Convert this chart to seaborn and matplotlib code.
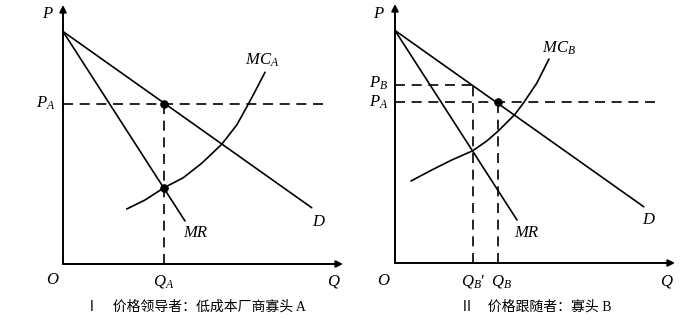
import matplotlib
matplotlib.use("Agg")
import matplotlib.pyplot as plt
import seaborn as sns

# ---------------- data (economic units) ----------------
demand_q = [0.0, 9.95]
demand_p = [9.30, 2.25]
mr_q = [0.0, 4.88]
mr_p = [9.30, 1.72]

mc_a_q = [2.55, 3.28, 4.04, 4.81, 5.55, 6.35, 6.95, 7.41, 7.75, 8.08]
mc_a_p = [2.20, 2.56, 3.05, 3.45, 4.03, 4.79, 5.56, 6.39, 7.03, 7.67]
mc_b_q = [0.64, 1.47, 2.27, 3.11, 3.67, 4.13, 4.80, 5.13, 5.67, 6.16]
mc_b_p = [3.28, 3.72, 4.12, 4.49, 4.88, 5.28, 5.95, 6.39, 7.19, 8.16]

p_a = 6.42
q_a = 4.04
mc_at_qa = 3.05
p_b = 7.12
q_b_prime = 3.12
q_b = 4.12

q_axis_max = 11.2
p_axis_max = 10.36
dash_end = 10.64

captions = ["Ⅰ　价格领导者：低成本厂商寡头 A", "Ⅱ　价格跟随者：寡头 B"]

# ---------------- style ----------------
sns.set_theme(style="white")
plt.rcParams["font.family"] = ["Liberation Serif", "Noto Sans CJK SC", "DejaVu Sans"]
plt.rcParams["mathtext.fontset"] = "custom"
plt.rcParams["mathtext.rm"] = "Liberation Serif"
plt.rcParams["mathtext.it"] = "Liberation Serif:italic"
plt.rcParams["text.color"] = "black"

fig = plt.figure(figsize=(6.96, 3.24), dpi=100)
W, H = 696.0, 324.0
U = 25.0  # pixels per unit

def make_ax(x0, x1, ox, oy):
    ax = fig.add_axes([x0 / W, 0, (x1 - x0) / W, 1])
    ax.set_xlim((x0 - ox) / U, (x1 - ox) / U)
    ax.set_ylim((oy - H) / U, oy / U)
    ax.axis("off")
    return ax

axL = make_ax(0, 348, 63, 264)
axR = make_ax(348, 696, 395, 263)

LW = 1.2
DASH = dict(color="black", lw=1.2, dashes=(6, 4))
FS = 12
TXT = dict(fontsize=FS, color="black", style="italic")
SUB = dict(fontsize=FS, color="black")

def axes_arrows(ax):
    ap = dict(arrowstyle="-|>", lw=1.4, color="black", mutation_scale=10,
              shrinkA=0, shrinkB=0)
    ax.annotate("", xy=(q_axis_max, 0), xytext=(0, 0), arrowprops=ap)
    ax.annotate("", xy=(0, p_axis_max), xytext=(0, 0), arrowprops=ap)

def curves(ax, mcq, mcp):
    sns.lineplot(x=demand_q, y=demand_p, ax=ax, color="black", lw=LW, sort=False)
    sns.lineplot(x=mr_q, y=mr_p, ax=ax, color="black", lw=LW, sort=False)
    sns.lineplot(x=mcq, y=mcp, ax=ax, color="black", lw=LW, sort=False)
    for l in ax.lines:
        l.set_solid_joinstyle("round")

# ---------------- left panel ----------------
axes_arrows(axL)
curves(axL, mc_a_q, mc_a_p)
axL.plot([0, dash_end], [p_a, p_a], **DASH)
axL.plot([q_a, q_a], [0, p_a], **DASH)
sns.scatterplot(x=[q_a, q_a], y=[p_a, mc_at_qa], ax=axL, color="black", s=32,
                edgecolor="black", zorder=5)
axL.text(-0.64, 10.0, "P", ha="center", va="center", **TXT)
axL.text(-0.3, p_a, r"$P_A$", ha="right", va="center", **SUB)
axL.text(-0.44, -0.64, "O", ha="center", va="center", **TXT)
axL.text(q_a, -0.72, r"$Q_A$", ha="center", va="center", **SUB)
axL.text(10.8, -0.72, "Q", ha="center", va="center", **TXT)
axL.text(7.96, 8.16, r"$MC_A$", ha="center", va="center", **SUB)
axL.text(10.2, 1.68, "D", ha="center", va="center", **TXT)
axL.text(5.28, 1.24, "MR", ha="center", va="center", **TXT)
axL.text(5.28, -1.72, captions[0], ha="center", va="center", fontsize=10, color="black")

# ---------------- right panel ----------------
axes_arrows(axR)
curves(axR, mc_b_q, mc_b_p)
axR.plot([0, q_b_prime], [p_b, p_b], **DASH)
axR.plot([q_b_prime, q_b_prime], [0, p_b], **DASH)
axR.plot([0, dash_end], [p_a, p_a], **DASH)
axR.plot([q_b, q_b], [0, p_a], **DASH)
sns.scatterplot(x=[q_b], y=[p_a], ax=axR, color="black", s=32,
                edgecolor="black", zorder=5)
axR.text(-0.68, 9.96, "P", ha="center", va="center", **TXT)
axR.text(-0.28, 7.2, r"$P_B$", ha="right", va="center", **SUB)
axR.text(-0.28, p_a, r"$P_A$", ha="right", va="center", **SUB)
axR.text(-0.48, -0.72, "O", ha="center", va="center", **TXT)
axR.text(q_b_prime, -0.72, r"$Q_B$" + "\u2032", ha="center", va="center", **SUB)
axR.text(4.24, -0.72, r"$Q_B$", ha="center", va="center", **SUB)
axR.text(10.84, -0.72, "Q", ha="center", va="center", **TXT)
axR.text(6.56, 8.6, r"$MC_B$", ha="center", va="center", **SUB)
axR.text(10.12, 1.72, "D", ha="center", va="center", **TXT)
axR.text(5.24, 1.2, "MR", ha="center", va="center", **TXT)
axR.text(5.64, -1.76, captions[1], ha="center", va="center", fontsize=10, color="black")

fig.savefig("out.png", dpi=100)
